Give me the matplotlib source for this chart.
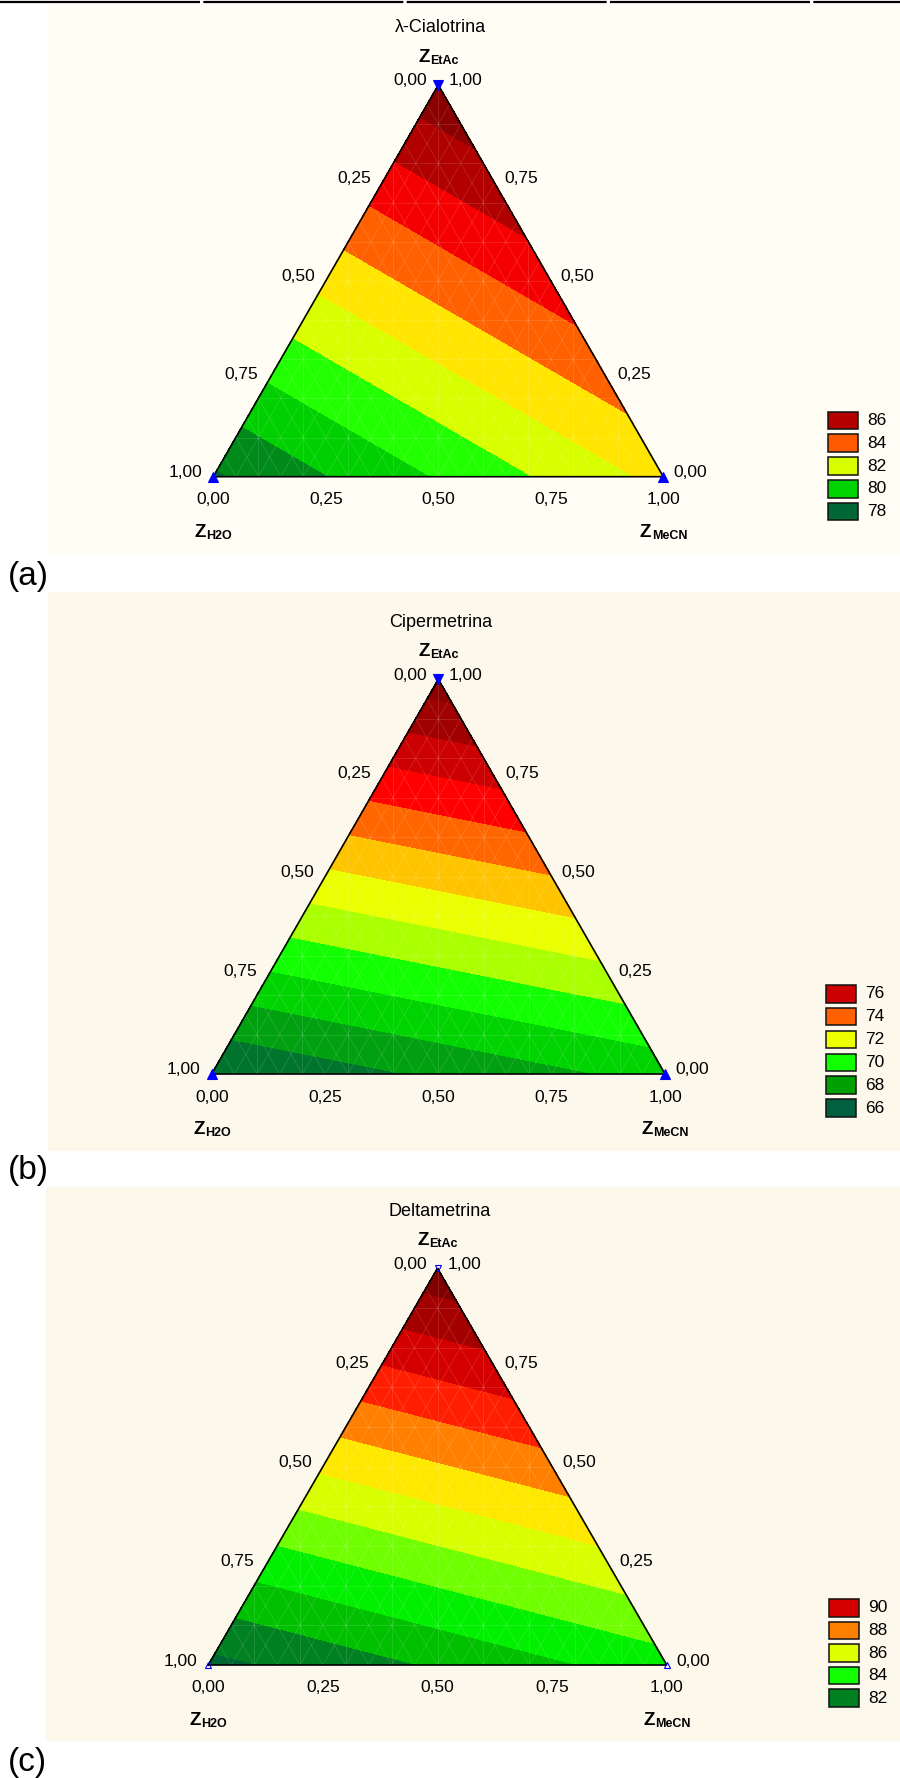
import numpy as np
import matplotlib
matplotlib.use('Agg')
import matplotlib.pyplot as plt
import matplotlib.tri as mtri
from matplotlib.patches import Rectangle

plt.rcParams['font.family'] = ['Liberation Sans', 'DejaVu Sans']

# ---- data -------------------------------------------------------------
titles = ['λ-Cialotrina', 'Cipermetrina', 'Deltametrina']
tags = ['(a)', '(b)', '(c)']

# response of the (linear) mixture model at the pure components: H2O, MeCN, EtAc
resp_a = [77.85, 82.28, 86.72]
resp_b = [65.98, 68.36, 77.54]
resp_c = [80.68, 83.55, 91.66]

levels_a = [78, 79, 80, 81, 82, 83, 84, 85, 86]
levels_b = [66, 67, 68, 69, 70, 71, 72, 73, 74, 75, 76, 77]
levels_c = [81, 82, 83, 84, 85, 86, 87, 88, 89, 90, 91]

bands_a = ['#006633', '#008a1a', '#00d000', '#22ff00', '#d8ff00',
           '#ffe500', '#ff6000', '#f50000', '#b00000', '#8b0000']
bands_b = ['#006633', '#00742c', '#00a010', '#00d400', '#11ff00', '#aaff00',
           '#eaff00', '#ffc400', '#ff6600', '#ff0000', '#cc0000', '#a00000', '#8b0000']
bands_c = ['#006633', '#008020', '#00c000', '#00f000', '#70ff00', '#d8ff00',
           '#ffe800', '#ff8000', '#ff1e00', '#d40000', '#a50000', '#800000']

legend_a = [86, 84, 82, 80, 78]
legend_b = [76, 74, 72, 70, 68, 66]
legend_c = [90, 88, 86, 84, 82]
legend_colors_a = ['#b40000', '#ff5a00', '#d8ff00', '#00d400', '#006837']
legend_colors_b = ['#cc0000', '#ff6000', '#eeff00', '#11ff00', '#00a000', '#006040']
legend_colors_c = ['#d40000', '#ff8000', '#ddff00', '#11ff00', '#008020']

ticks = [0.0, 0.25, 0.5, 0.75, 1.0]

# design points (H2O, MeCN, EtAc)
design = [(1, 0, 0), (0, 1, 0), (0, 0, 1)]

# ---- layout (pixels) --------------------------------------------------
W, H = 900, 1778
S = np.sqrt(3) / 2
frames = [(213.3, 663.3, 476.7, 85.0), (211.7, 665.0, 1074.0, 679.3),
          (208.3, 666.7, 1665.0, 1268.3)]
backs = [(48, 4, 900, 554, '#fffdf4'), (48, 592, 900, 1151, '#fdf8ec'),
         (46, 1187, 900, 1741, '#fdf8ec')]
tag_y = [577, 1170, 1762]
leg_pos = [(828.3, 411.7, 22.75), (826.0, 985.0, 22.85), (829.3, 1599.0, 22.6)]
marker_face = ['blue', 'blue', 'none']

resp = [resp_a, resp_b, resp_c]
levels = [levels_a, levels_b, levels_c]
bands = [bands_a, bands_b, bands_c]
legends = [legend_a, legend_b, legend_c]
legend_colors = [legend_colors_a, legend_colors_b, legend_colors_c]


def tern(h, m, e):
    return m + 0.5 * e, S * e


def fmt(v):
    return ('%.2f' % v).replace('.', ',')


fig = plt.figure(figsize=(W / 100, H / 100), dpi=100)
bg = fig.add_axes([0, 0, 1, 1])
bg.set_xlim(0, W)
bg.set_ylim(H, 0)
bg.axis('off')
bg.plot([0, W], [1.5, 1.5], color='black', lw=1.6, ls=(0, (90, 1.5)))

# composition grid for the response surface
n = 120
mm, ee = [], []
for i in range(n + 1):
    for j in range(n + 1 - i):
        mm.append(i / n)
        ee.append(j / n)
mm = np.array(mm)
ee = np.array(ee)
hh = 1 - mm - ee
gx, gy = tern(hh, mm, ee)
tri = mtri.Triangulation(gx, gy)

zlabels = []
for k in range(3):
    bx0, by0, bx1, by1, bcol = backs[k]
    bg.add_patch(Rectangle((bx0, by0), bx1 - bx0, by1 - by0, color=bcol, lw=0, zorder=0))
    bg.text(8, tag_y[k], tags[k], fontsize=24, ha='left', va='center')

    lx, ly, step = leg_pos[k]
    for r, (val, col) in enumerate(zip(legends[k], legend_colors[k])):
        bg.add_patch(Rectangle((lx, ly + r * step), 30, 17.6, facecolor=col,
                               edgecolor='#111111', lw=1.1, zorder=2))
        bg.text(lx + 39, ly + r * step + 9, str(val), fontsize=12.5, ha='left', va='center')

    x0, x1, yb, ya = frames[k]
    ax = fig.add_axes([x0 / W, 1 - yb / H, (x1 - x0) / W, (yb - ya) / H])
    ax.set_xlim(0, 1)
    ax.set_ylim(0, S)
    ax.axis('off')

    vh, vm, ve = resp[k]
    z = vh * hh + vm * mm + ve * ee
    lv = [min(z.min(), levels[k][0]) - 1] + levels[k] + [max(z.max(), levels[k][-1]) + 1]
    cs = ax.tricontourf(tri, z, levels=lv, colors=bands[k])
    cs.set_edgecolor('face')
    cs.set_linewidth(0.3)

    # faint mesh
    mesh = dict(color='white', lw=0.5, alpha=0.17, zorder=3)
    for t in np.arange(0.1, 1.0, 0.1):
        xa, ya_ = tern(1 - t, 0, t)
        xb, yb_ = tern(0, 1 - t, t)
        ax.plot([xa, xb], [ya_, yb_], **mesh)
    for t in np.arange(0.05, 1.0, 0.05):
        xa, ya_ = tern(1 - t, t, 0)
        xb, yb_ = tern(0, t, 1 - t)
        ax.plot([xa, xb], [ya_, yb_], **mesh)
        xa, ya_ = tern(t, 1 - t, 0)
        xb, yb_ = tern(t, 0, 1 - t)
        ax.plot([xa, xb], [ya_, yb_], **mesh)
    for t in np.arange(0.1, 1.0, 0.1):
        top = S * (1 - abs(2 * t - 1))
        ax.plot([t, t], [0, top], **mesh)

    ax.plot([0, 1, 0.5, 0], [0, 0, S, 0], color='black', lw=1.2, zorder=4,
            clip_on=False, solid_joinstyle='miter')

    # design points
    for (h, m, e) in design:
        px, py = tern(h, m, e)
        mk = 'v' if e == 1 else '^'
        ax.plot(px, py, marker=mk, ms=6.5 if marker_face[k] == 'blue' else 5,
                mfc=marker_face[k], mec='blue', mew=0.8, clip_on=False, zorder=5)

    # tick labels
    off = dict(textcoords='offset pixels', fontsize=12.5, va='center')
    for t in ticks:
        ax.annotate(fmt(t), tern(t, 0, 1 - t), xytext=(-11, 4), ha='right', **off)
        ax.annotate(fmt(t), tern(0, 1 - t, t), xytext=(10, 4), ha='left', **off)
        ax.annotate(fmt(t), tern(1 - t, t, 0), xytext=(0, -23), ha='center', **off)

    ax.annotate(titles[k], tern(0, 0, 1), xytext=(2, 52.5), textcoords='offset pixels',
                ha='center', va='baseline', fontsize=13)

    for pos, sub, dy in [((0, 0, 1), 'EtAc', 23), ((1, 0, 0), 'H2O', -60),
                         ((0, 1, 0), 'MeCN', -60)]:
        tz = ax.annotate('Z', tern(*pos), xytext=(0, dy), textcoords='offset pixels',
                         ha='right', va='baseline', fontsize=13.5, fontweight='bold')
        ts = ax.annotate(sub, (1, 0), xycoords=tz, xytext=(0.5, -1),
                         textcoords='offset pixels', ha='left', va='bottom',
                         fontsize=9, fontweight='bold')
        zlabels.append((tz, ts, dy))

# centre the Z + subscript labels on their vertices
fig.canvas.draw()
rend = fig.canvas.get_renderer()
for tz, ts, dy in zlabels:
    wz = tz.get_window_extent(rend).width
    ws = ts.get_window_extent(rend).width
    tz.xyann = ((wz - ws) / 2, dy)

fig.savefig('out.png', dpi=100)
